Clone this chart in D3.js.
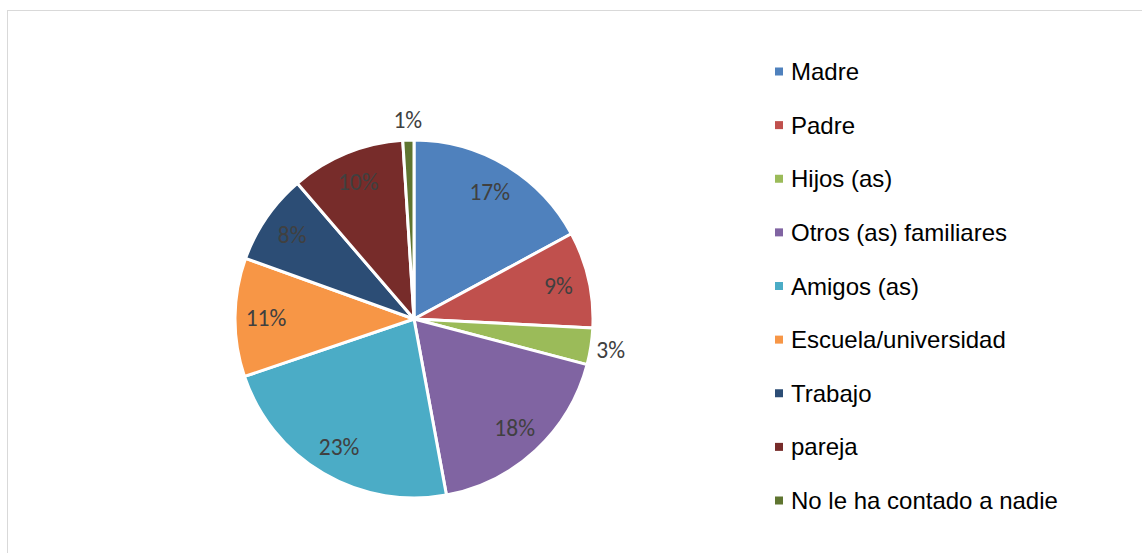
<!DOCTYPE html>
<html><head><meta charset="utf-8">
<script src="https://cdn.jsdelivr.net/npm/d3@7/dist/d3.min.js"></script>
<style>body{margin:0;background:#fff;}svg{display:block;}</style>
</head><body>
<svg id="c" width="1142" height="553"></svg>
<script>
const categories = ["Madre","Padre","Hijos (as)","Otros (as) familiares","Amigos (as)","Escuela/universidad","Trabajo","pareja","No le ha contado a nadie"];
const values = [17.1, 8.7, 3.3, 18.0, 22.7, 10.7, 8.2, 10.3, 1.0];
const labels = ["17%","9%","3%","18%","23%","11%","8%","10%","1%"];
const colors = ["#4f81bd","#c0504d","#9bbb59","#8064a2","#4bacc6","#f79646","#2c4d75","#772c2a","#5f7530"];
const outside = [false,false,true,false,false,false,false,false,true];

const svg = d3.select("#c");
// chart border
svg.append("rect").attr("x",7.5).attr("y",10.5).attr("width",1200).attr("height",600)
  .attr("fill","none").attr("stroke","#d9d9d9").attr("stroke-width",1);

const cx = 414, cy = 319, R = 179;
const g = svg.append("g").attr("transform",`translate(${cx},${cy})`);
const pie = d3.pie().sort(null).value(d=>d)(values);
const arc = d3.arc().innerRadius(0).outerRadius(R);
g.selectAll("path").data(pie).join("path")
  .attr("d",arc).attr("fill",(d,i)=>colors[i])
  .attr("stroke","#fff").attr("stroke-width",3).attr("stroke-linejoin","round");

const inArc = d3.arc().innerRadius(148).outerRadius(148);
const outArc = d3.arc().innerRadius(199).outerRadius(199);
g.selectAll("text.lbl").data(pie).join("text").attr("class","lbl")
  .attr("transform",(d,i)=>`translate(${(outside[i]?outArc:inArc).centroid(d)})`)
  .attr("text-anchor","middle").attr("dominant-baseline","central")
  .attr("font-family","Carlito, Lato, 'Open Sans', sans-serif").attr("font-size",23.5)
  .attr("fill","#404040").text((d,i)=>labels[i]);

// legend
const ly = d3.scalePoint().domain(categories).range([71.5, 500.5]);
const lg = svg.append("g");
const items = lg.selectAll("g").data(categories).join("g")
  .attr("transform",d=>`translate(775,${ly(d)})`);
items.append("rect").attr("x",0).attr("y",-4).attr("width",8).attr("height",8)
  .attr("fill",(d,i)=>colors[i]);
items.append("text").attr("x",16).attr("y",0).attr("dominant-baseline","central")
  .attr("font-family","'Liberation Sans', Arial, sans-serif").attr("font-size",24)
  .attr("fill","#000").text(d=>d);
</script>
</body></html>
